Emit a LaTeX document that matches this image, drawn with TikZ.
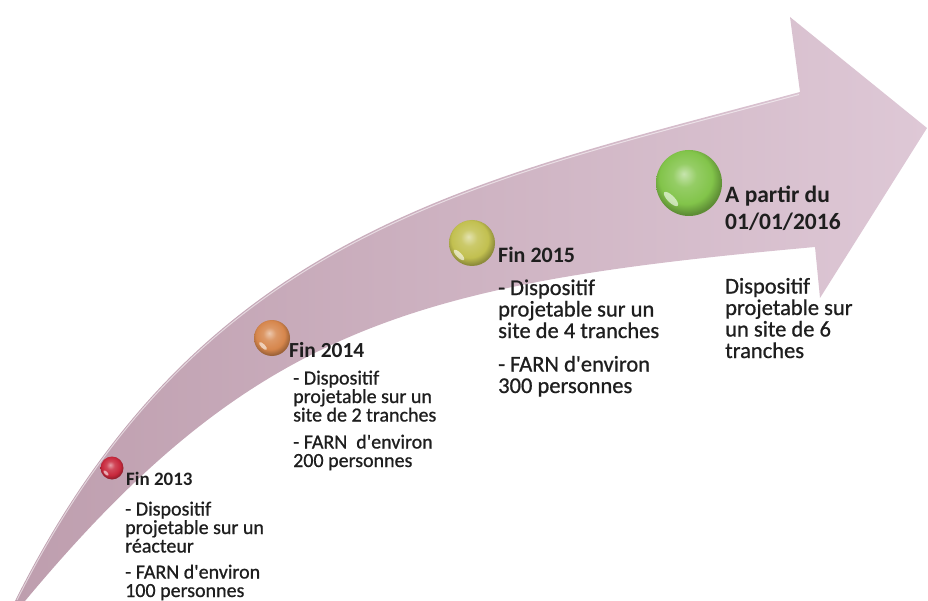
\documentclass[tikz,border=0pt]{standalone}
\usepackage{fontspec}
\setmainfont{Carlito}
\newfontfamily\medfont{Carlito}[FakeBold=0.8]
\definecolor{arrowL}{HTML}{BE9EAE}
\definecolor{arrowR}{HTML}{DEC8D6}
\definecolor{txtcol}{HTML}{1E1E1E}
\definecolor{ballred}{HTML}{C8283C}
\definecolor{ballorange}{HTML}{D6864C}
\definecolor{ballyellow}{HTML}{C2C050}
\definecolor{ballgreen}{HTML}{82C44A}
\colorlet{gball}{red}
\pgfdeclareradialshading[gball]{gloss}{\pgfqpoint{-4bp}{7bp}}{%
  color(0bp)=(gball!45!white); color(9bp)=(gball!85!white);
  color(20bp)=(gball); color(27bp)=(gball!72!black); color(50bp)=(gball!72!black)}
\newcommand{\fsz}[2]{\fontsize{#1}{#2}\selectfont\lineskiplimit=-30pt\lineskip=0pt}
\begin{document}
\begin{tikzpicture}[x=1pt,y=-1pt,
  txt/.style={anchor=base west, align=left, inner sep=0pt, text=txtcol},
  ttl/.style={txt, font=\bfseries\fsz{#1}{27}},
  bdy/.style 2 args={txt, font=\medfont\fsz{#1}{#2}},
  gloss color/.code={\colorlet{gball}{#1}\pgfkeysalso{shading=gloss,shade}},
  ballnode/.style={circle, inner sep=0pt, minimum size=#1},
  shine/.style={white, opacity=0.6}]
\useasboundingbox (0,0) rectangle (928,601);
% arrow
\path[left color=arrowL, right color=arrowR]
  (15,601) .. controls (200,231) and (470,181) .. (800,92)
  -- (790,17) -- (927,128) -- (820,298) -- (815,247)
  .. controls (415,283) and (255,325) .. (25,601) -- cycle;
\draw[white, opacity=0.55, line width=1pt]
  (17,600) .. controls (201,233) and (471,183) .. (799,94.5);
% balls
\node[ballnode=23pt, gloss color=ballred] (b1) at (112,468) {};
\node[ballnode=36pt, gloss color=ballorange] (b2) at (272,338) {};
\node[ballnode=46pt, gloss color=ballyellow] (b3) at (472,243) {};
\node[ballnode=66pt, gloss color=ballgreen] (b4) at (689,183) {};
\fill[shine, rotate around={-45:(106,473)}] (106,473) ellipse (3.5 and 1.5);
\fill[shine, rotate around={-45:(263,346)}] (263,346) ellipse (5 and 2);
\fill[shine, rotate around={-45:(459,255)}] (459,255) ellipse (7 and 2.5);
\fill[shine, rotate around={-45:(671,199)}] (671,199) ellipse (9.5 and 3.5);
% texts
\node[ttl=19] (t1) at (126,485) {Fin 2013};
\node[bdy={20}{18.5}] (d1) at (125,597) {- Dispositif\\projetable sur un\\réacteur\\[7.5pt]- FARN d'environ\\100 personnes};
\node[ttl=21.5] (t2) at (289,357) {Fin 2014};
\node[bdy={20}{18.5}] (d2) at (293,467) {- Dispositif\\projetable sur un\\site de 2 tranches\\[8.5pt]- FARN~ d'environ\\200 personnes};
\node[ttl=22] (t3) at (498,263) {Fin 2015};
\node[bdy={22.5}{21.5}] (d3) at (498,393) {- Dispositif\\projetable sur un\\site de 4 tranches\\[12pt]- FARN d'environ\\300 personnes};
\node[ttl=23.5] (t4) at (725,230) {A partir du\\01/01/2016};
\node[bdy={22.5}{21.5}] (d4) at (725,358) {Dispositif\\projetable sur\\un site de 6\\tranches};
\end{tikzpicture}
\end{document}
